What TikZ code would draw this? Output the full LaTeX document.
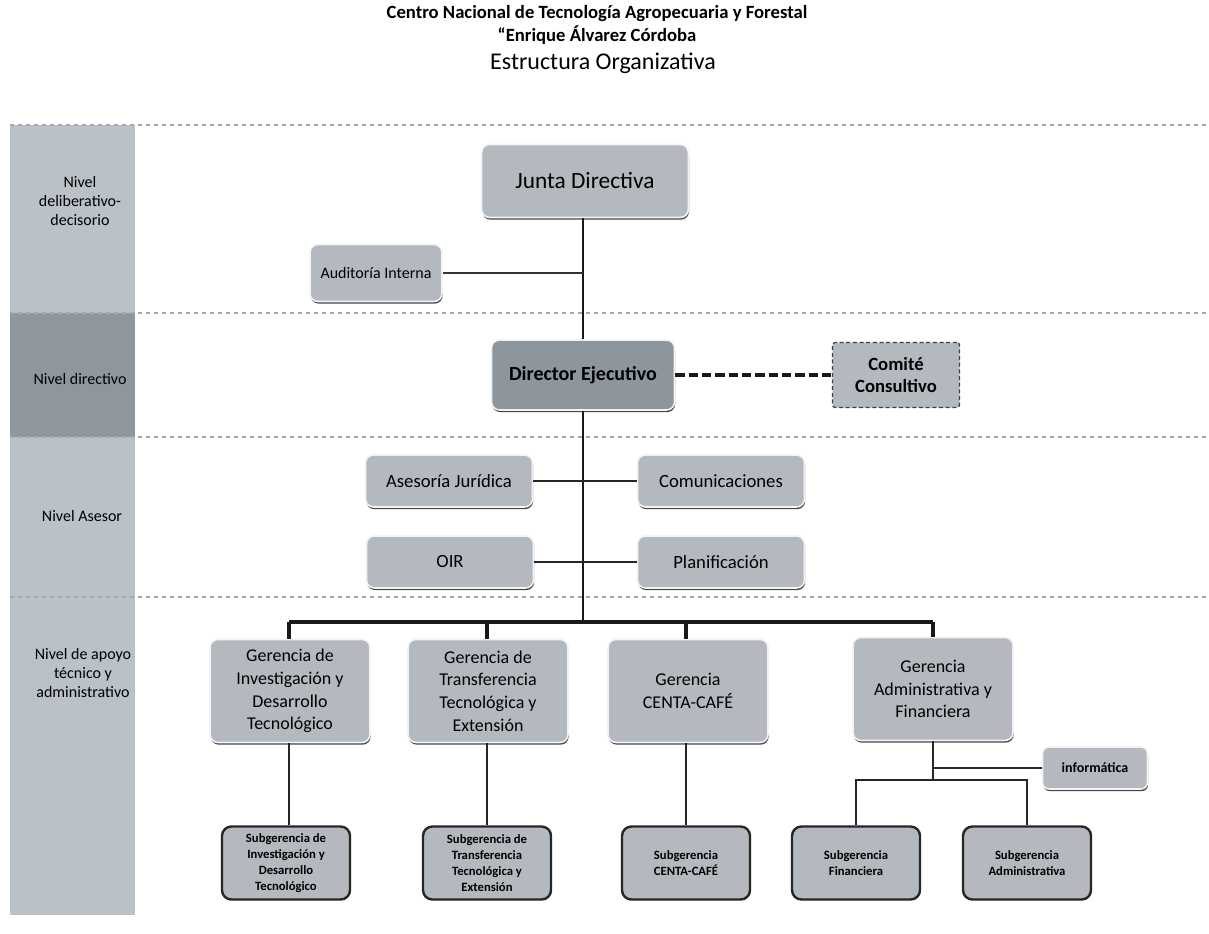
\documentclass[tikz,border=0pt]{standalone}
\usepackage{fontspec}
\setmainfont{Carlito}
\usetikzlibrary{shadows}
\definecolor{boxgray}{HTML}{B3B9BE}
\definecolor{dirgray}{HTML}{8E969D}
\definecolor{sidelight}{HTML}{BAC1C7}
\definecolor{sidedark}{HTML}{8F979E}
\definecolor{dashgray}{HTML}{A3A9AE}
\definecolor{edgewhite}{HTML}{F2F3F4}
\begin{document}
\begin{tikzpicture}[x=0.75pt,y=-0.75pt,
  shade/.style={drop shadow={shadow xshift=0.5pt, shadow yshift=-1.6pt, fill=black!80, opacity=0.9}},
  box/.style={rounded corners=6pt, fill=boxgray, draw=edgewhite, line width=1.2pt, inner sep=0pt, align=center, shade},
  subbox/.style={rounded corners=7pt, fill=boxgray, draw=black!85, line width=1.8pt, inner sep=0pt, align=center,
    minimum width=96pt, minimum height=54.75pt, font=\fontsize{9.5}{12}\selectfont\bfseries},
  gerbox/.style={box, minimum width=120pt, minimum height=77.25pt, font=\fontsize{13.5}{17}\selectfont},
  asebox/.style={box, minimum width=125.25pt, minimum height=39pt, font=\fontsize{14}{16}\selectfont},
  levelline/.style={dashgray, dashed, line width=0.8pt},
  sidelabel/.style={align=center, font=\fontsize{12}{14}\selectfont},
  thick line/.style={black!90, line width=2pt},
  thin line/.style={black!85, line width=0.9pt}
]
\useasboundingbox (0,0) rectangle (1209,934);
\fill[white] (0,0) rectangle (1209,934);

% title
\node[font=\fontsize{14}{16}\selectfont\bfseries] (t1) at (597,14) {Centro Nacional de Tecnología Agropecuaria y Forestal};
\node[font=\fontsize{14}{16}\selectfont\bfseries] (t2) at (597,35) {“Enrique Álvarez Córdoba};
\node[font=\fontsize{18}{21}\selectfont] (t3) at (603,63) {Estructura Organizativa};

% sidebar bands
\fill[sidelight] (10,125) rectangle (135,313);
\fill[sidedark] (10,313) rectangle (135,437);
\fill[sidelight] (10,437) rectangle (135,915);

% level lines
\draw[levelline] (10,125) -- (1209,125);
\draw[levelline] (10,313) -- (1209,313);
\draw[levelline] (10,437) -- (1209,437);
\draw[levelline] (10,597) -- (1209,597);

% sidebar labels
\node[sidelabel] (l1) at (80,201) {Nivel\\deliberativo-\\decisorio};
\node[sidelabel] (l2) at (80,379) {Nivel directivo};
\node[sidelabel] (l3) at (82,516) {Nivel Asesor};
\node[sidelabel] (l4) at (83,673) {Nivel de apoyo\\técnico y\\administrativo};

% nodes
\node[box, minimum width=155pt, minimum height=54.75pt, font=\fontsize{17.5}{20}\selectfont] (junta) at (585,181) {Junta Directiva};
\node[box, minimum width=99pt, minimum height=42.75pt, font=\fontsize{12}{14}\selectfont] (audit) at (376,273) {Auditoría Interna};
\node[box, fill=dirgray, minimum width=137.25pt, minimum height=52.5pt, font=\fontsize{15}{17}\selectfont\bfseries] (dir) at (583,375) {Director Ejecutivo};
\node[rounded corners=2pt, fill=boxgray, draw=black!75, densely dashed, line width=1pt, inner sep=0pt, align=center,
  minimum width=95.25pt, minimum height=48.75pt, font=\fontsize{14}{17}\selectfont\bfseries] (comite) at (896,375) {Comité\\Consultivo};

\node[asebox] (asesoria) at (449,481) {Asesoría Jurídica};
\node[asebox] (comunic) at (721,481) {Comunicaciones};
\node[asebox] (oir) at (450,562) {OIR};
\node[asebox] (planif) at (721,562) {Planificación};

\node[gerbox] (g1) at (290,691) {Gerencia de\\Investigación y\\Desarrollo\\Tecnológico};
\node[gerbox] (g2) at (488,691) {Gerencia de\\Transferencia\\Tecnológica y\\Extensión};
\node[gerbox] (g3) at (688,691) {Gerencia\\CENTA-CAFÉ};
\node[gerbox] (g4) at (933,689) {Gerencia\\Administrativa y\\Financiera};

\node[box, rounded corners=5pt, minimum width=78.75pt, minimum height=31.5pt, font=\fontsize{10.5}{12}\selectfont\bfseries] (info) at (1095,768) {informática};

\node[subbox] (s1) at (286,863) {Subgerencia de\\Investigación y\\Desarrollo\\Tecnológico};
\node[subbox] (s2) at (487,863) {Subgerencia de\\Transferencia\\Tecnológica y\\Extensión};
\node[subbox] (s3) at (686,863) {Subgerencia\\CENTA-CAFÉ};
\node[subbox] (s4) at (856,863) {Subgerencia\\Financiera};
\node[subbox] (s5) at (1027,863) {Subgerencia\\Administrativa};

% coordinates
\coordinate (tAud) at (583,273);
\coordinate (tAse) at (583,481);
\coordinate (tOir) at (583,562);
\coordinate (bus) at (583,622);
\coordinate (busL) at (289,622);
\coordinate (b2) at (487,622);
\coordinate (b3) at (686,622);
\coordinate (busR) at (933,622);
\coordinate (gBus) at (933,780);
\coordinate (sBusL) at (856,780);
\coordinate (sBusR) at (1027,780);

% connectors
\draw[thick line] (junta.south -| tAud) -- (dir.north -| tAud);
\draw[black!80, line width=1.3pt] (audit.east) -- (tAud);
\draw[thick line] (dir.south -| bus) -- (bus);
\draw[black!90, line width=2.4pt, dashed, dash pattern=on 7pt off 3pt] (dir.east) -- (comite.west);
\draw[thin line] (asesoria.east) -- (tAse) -- (comunic.west);
\draw[thin line] (oir.east) -- (tOir) -- (planif.west);
\draw[black!90, line width=2.6pt] (busL) -- (busR);
\draw[black!90, line width=2.4pt] (busL) -- (g1.north -| busL);
\draw[black!90, line width=2.4pt] (b2) -- (g2.north -| b2);
\draw[black!90, line width=2.4pt] (b3) -- (g3.north -| b3);
\draw[black!90, line width=2.4pt] (busR) -- (g4.north -| busR);

\draw[thin line] (g1.south -| busL) -- (s1.north -| busL);
\draw[thin line] (g2.south -| b2) -- (s2.north -| b2);
\draw[black!85, line width=1.3pt] (g3.south -| b3) -- (s3.north -| b3);
\draw[thin line] (g4.south -| busR) -- (gBus);
\draw[thin line] (busR |- info.west) -- (info.west);
\draw[thin line] (s4.north) -- (sBusL) -- (sBusR) -- (s5.north);
\end{tikzpicture}
\end{document}
